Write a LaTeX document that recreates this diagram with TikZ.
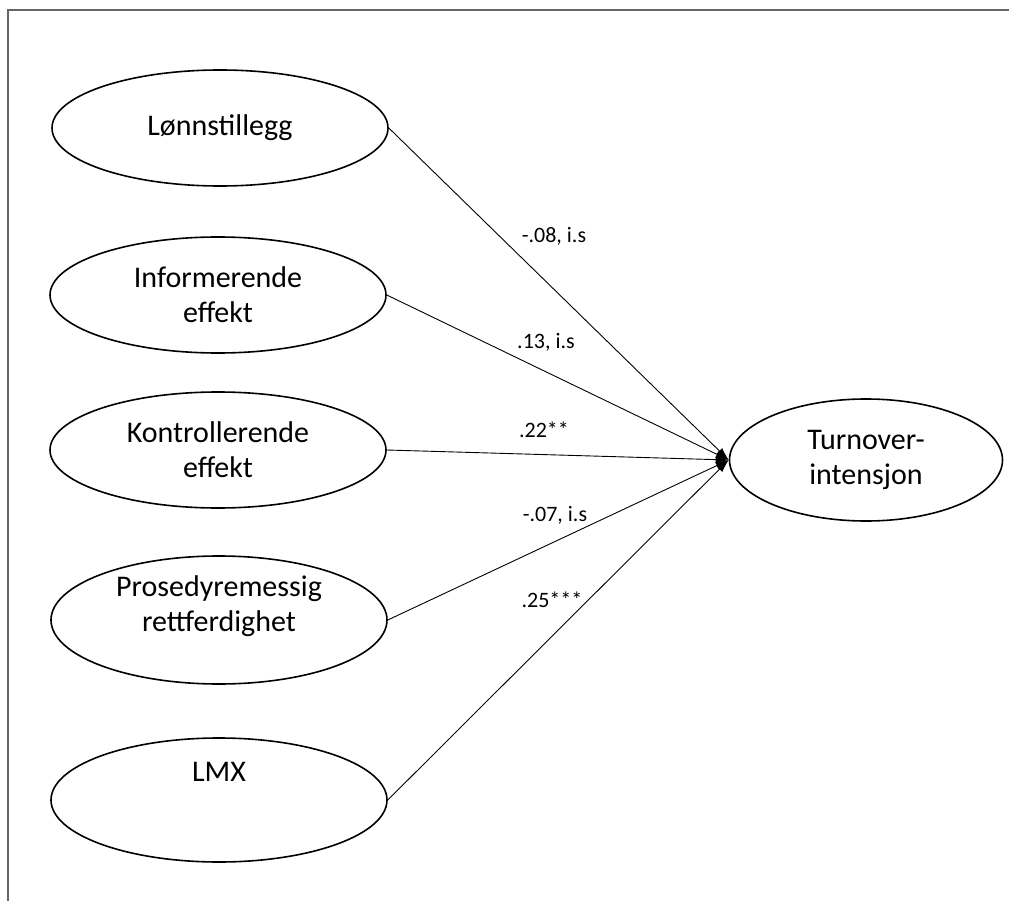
\documentclass[tikz,border=0pt]{standalone}
\usepackage{fontspec}
\setmainfont{Carlito}
\usetikzlibrary{arrows.meta,shapes.geometric}
\begin{document}
\begin{tikzpicture}[x=1pt,y=-1pt,
  latent/.style={ellipse,draw=black,line width=1.6pt,inner sep=0pt,
    minimum width=336pt,minimum height=116pt,align=center,
    font=\fontsize{30}{35}\selectfont},
  inlbl/.style={align=center,font=\fontsize{30}{35}\selectfont},
  path/.style={line width=0.9pt,-{Latex[length=13pt,width=8pt]}},
  coef/.style={font=\fontsize{22}{26}\selectfont,inner sep=0pt}]
\useasboundingbox (0,0) rectangle (1009,901);
\draw[gray!80!black,line width=1.5pt] (8,905) -- (8,10) -- (1012,10);
\node[latent] (lon) at (220,128) {Lønnstillegg};
\node[latent] (inf) at (218,295) {Informerende\\effekt};
\node[latent] (kon) at (218,450) {Kontrollerende\\effekt};
\node[latent,minimum height=128pt,label={[inlbl,yshift=14pt]center:Prosedyremessig\\rettferdighet}] (pro) at (219,620) {};
\node[latent,minimum height=124pt,label={[inlbl,yshift=28pt]center:LMX}] (lmx) at (219,800) {};
\node[latent,minimum width=273pt,minimum height=122pt] (tur) at (866,460) {Turnover-\\intensjon};
\draw[path] (lon.east) -- (tur.west);
\draw[path] (inf.east) -- (tur.west);
\draw[path] (kon.east) -- (tur.west);
\draw[path] (pro.east) -- (tur.west);
\draw[path] (lmx.east) -- (tur.west);
\node[coef] (c1) at (554,236) {-.08, i.s};
\node[coef] (c2) at (546,342) {.13, i.s};
\node[coef] (c3) at (544,430) {.22**};
\node[coef] (c4) at (555,515) {-.07, i.s};
\node[coef] (c5) at (552,600) {.25***};
\end{tikzpicture}
\end{document}
